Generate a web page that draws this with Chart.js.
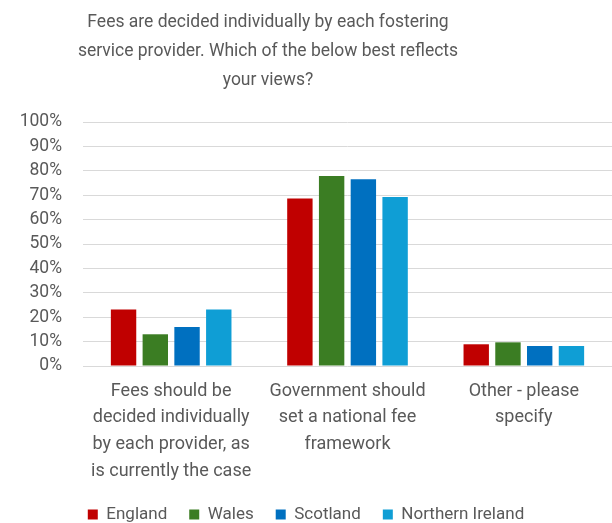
<!DOCTYPE html>
<html>
<head>
<meta charset="utf-8">
<script src="https://cdn.jsdelivr.net/npm/chart.js@4"></script>
<style>
  html, body { margin: 0; padding: 0; background: #fff; }
  #wrap { width: 612px; height: 523px; position: relative; }
</style>
</head>
<body>
<div id="wrap"><canvas id="myChart"></canvas></div>
<script>
// survey answers per nation
const categories = [
  ["Fees should be", "decided individually", "by each provider, as", "is currently the case"],
  ["Government should", "set a national fee", "framework"],
  ["Other - please", "specify"]
];
const england = [23.2, 68.6, 8.9];
const wales = [13.0, 77.9, 9.7];
const scotland = [16.0, 76.5, 8.2];
const northernIreland = [23.2, 69.3, 8.2];
const yTicks = [0, 10, 20, 30, 40, 50, 60, 70, 80, 90, 100];

const titleLines = [
  "Fees are decided individually by each fostering",
  "service provider. Which of the below best reflects",
  "your views?"
];

const FONT = "Roboto, 'Liberation Sans', sans-serif";
const GREY = "#595959";

// title drawn by hand so it can sit left of centre
const titlePlugin = {
  id: "titleLines",
  afterDraw(chart) {
    const c = chart.ctx;
    c.save();
    c.fillStyle = GREY;
    c.font = "17.5px " + FONT;
    c.textAlign = "center";
    c.textBaseline = "middle";
    titleLines.forEach((t, i) => c.fillText(t, 268, 23 + i * 29));
    c.restore();
  }
};

const ctx = document.getElementById("myChart");

new Chart(ctx, {
  type: "bar",
  data: {
    labels: categories,
    datasets: [
      { label: "England", backgroundColor: "#C00000", data: england },
      { label: "Wales", backgroundColor: "#3B7D23", data: wales },
      { label: "Scotland", backgroundColor: "#0070C0", data: scotland },
      { label: "Northern Ireland", backgroundColor: "#0F9ED5", data: northernIreland }
    ]
  },
  plugins: [titlePlugin],
  options: {
    responsive: true,
    maintainAspectRatio: false,
    animation: false,
    datasets: {
      bar: { categoryPercentage: 0.72, barPercentage: 0.8 }
    },
    layout: { padding: { top: 122, left: 0, right: 0, bottom: -10 } },
    plugins: {
      title: { display: false },
      tooltip: { enabled: false },
      legend: {
        position: "bottom",
        labels: {
          boxWidth: 10,
          boxHeight: 10,
          padding: 22,
          color: GREY,
          font: { family: FONT, size: 17 }
        }
      }
    },
    scales: {
      x: {
        grid: { display: false, drawTicks: false },
        border: { display: false },
        ticks: {
          color: GREY,
          padding: 12,
          maxRotation: 0,
          autoSkip: false,
          font: { family: FONT, size: 18, lineHeight: 1.48 }
        },
        afterFit(scale) { scale.height = 118; }
      },
      y: {
        min: 0,
        max: 100,
        afterBuildTicks(scale) { scale.ticks = yTicks.map(v => ({ value: v })); },
        grid: { color: "#D9D9D9", lineWidth: 1, drawTicks: false },
        border: { display: false },
        ticks: {
          color: GREY,
          padding: 21,
          autoSkip: false,
          font: { family: FONT, size: 17.5 },
          callback: v => v + "%"
        },
        afterFit(scale) { scale.width = 83; }
      }
    }
  }
});
</script>
</body>
</html>
